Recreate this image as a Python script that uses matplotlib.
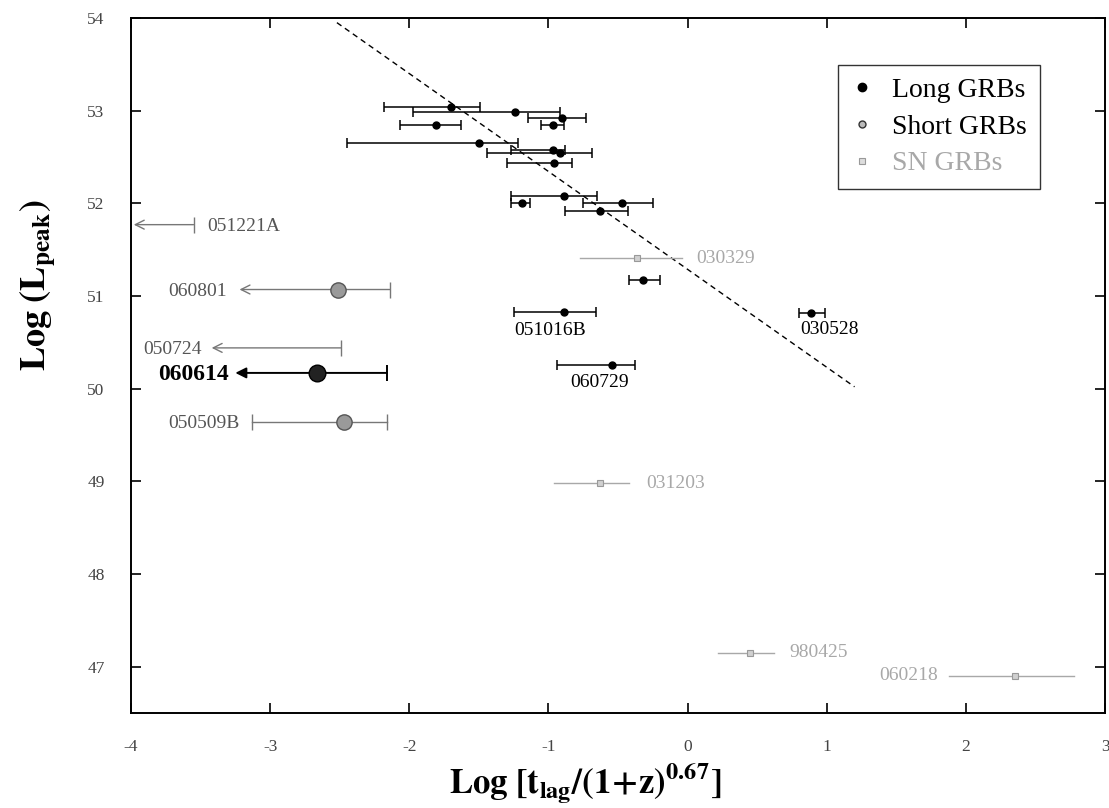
import numpy as np
import matplotlib
matplotlib.use("Agg")
import matplotlib.pyplot as plt

plt.rcParams['font.family'] = ['Liberation Serif', 'DejaVu Serif']
plt.rcParams['mathtext.fontset'] = 'stix'
plt.rcParams['axes.unicode_minus'] = False

# long GRBs: lag, luminosity, error bar ends
long_x = [-1.70, -1.24, -0.90, -0.97, -1.81, -1.50, -0.97, -0.92, -0.96,
          -0.89, -1.19, -0.47, -0.63, -0.32, -0.89, 0.89, -0.54]
long_y = [53.04, 52.99, 52.92, 52.85, 52.85, 52.65, 52.58, 52.54, 52.44,
          52.08, 52.00, 52.00, 51.92, 51.17, 50.83, 50.82, 50.26]
long_lo = [-2.18, -1.97, -1.15, -1.05, -2.07, -2.45, -1.27, -1.44, -1.30,
           -1.27, -1.27, -0.75, -0.88, -0.42, -1.25, 0.80, -0.94]
long_hi = [-1.49, -0.92, -0.73, -0.89, -1.63, -1.22, -0.88, -0.69, -0.83,
           -0.65, -1.13, -0.25, -0.43, -0.20, -0.66, 0.99, -0.38]
long_names = ['051016B', '030528', '060729']
long_name_x = [-0.99, 1.02, -0.63]
long_name_y = [50.63, 50.64, 50.07]

# short GRBs (upper limits drawn as left arrows)
short_names = ['051221A', '060801', '050724', '060614', '050509B']
short_y = [51.77, 51.07, 50.44, 50.17, 49.64]
short_pt = [None, -2.51, None, -2.66, -2.47]
short_hi = [-3.55, -2.14, -2.49, -2.16, -2.16]
short_lo = [-3.98, -3.22, -3.42, -3.25, -3.13]
short_arrow = [True, True, True, True, False]
short_lab_x = [-3.45, -3.31, -3.49, -3.30, -3.22]
short_lab_ha = ['left', 'right', 'right', 'right', 'right']

# SN GRBs
sn_names = ['030329', '031203', '980425', '060218']
sn_x = [-0.36, -0.63, 0.45, 2.35]
sn_y = [51.41, 48.98, 47.15, 46.90]
sn_lo = [-0.77, -0.96, 0.22, 1.88]
sn_hi = [-0.04, -0.42, 0.62, 2.78]
sn_lab_x = [0.06, -0.30, 0.73, 1.80]
sn_lab_ha = ['left', 'left', 'left', 'right']

# fitted relation
fit_x = [-2.52, 1.20]
fit_y = [53.95, 50.02]

fig = plt.figure(figsize=(11.09, 8.08), dpi=100)
ax = fig.add_axes([0.1181, 0.1176, 0.8783, 0.8601])

ax.plot(fit_x, fit_y, color='k', lw=1.0, ls=(0, (4, 3)))

# long GRBs
long_x = np.array(long_x)
ax.errorbar(long_x, long_y,
            xerr=[long_x - np.array(long_lo), np.array(long_hi) - long_x],
            fmt='o', color='k', ms=5, lw=1.1, capsize=3.5, capthick=1.1)
for n, x, y in zip(long_names, long_name_x, long_name_y):
    ax.text(x, y, n, ha='center', va='center', fontsize=14, color='k')

# short GRBs
grey = '#777777'
for i, n in enumerate(short_names):
    y = short_y[i]
    bold = n == '060614'
    c = 'k' if bold else grey
    lw = 1.4 if bold else 1.0
    if short_arrow[i]:
        style = '-|>' if bold else '->'
        ax.annotate('', xy=(short_lo[i], y), xytext=(short_hi[i], y),
                    arrowprops=dict(arrowstyle=style, color=c, lw=lw,
                                    mutation_scale=16, shrinkA=0, shrinkB=0))
        ax.plot([short_hi[i]], [y], marker='|', ms=12, mew=lw, color=c)
    else:
        ax.plot([short_lo[i], short_hi[i]], [y, y], color=c, lw=lw)
        ax.plot([short_lo[i], short_hi[i]], [y, y], ls='none', marker='|',
                ms=12, mew=lw, color=c)
    if short_pt[i] is not None:
        if bold:
            ax.plot([short_pt[i]], [y], 'o', ms=12, color='#222222', mec='k', zorder=5)
        else:
            ax.plot([short_pt[i]], [y], 'o', ms=11, color='#9a9a9a', mec='#555555',
                    mew=1.0, zorder=5)
    ax.text(short_lab_x[i], y - 0.02, n, ha=short_lab_ha[i], va='center',
            fontsize=17 if bold else 14, color='k' if bold else '#555555',
            fontweight='bold' if bold else 'normal')

# SN GRBs
light = '#a8a8a8'
for i, n in enumerate(sn_names):
    ax.plot([sn_lo[i], sn_hi[i]], [sn_y[i], sn_y[i]], color=light, lw=1.0)
    ax.plot([sn_x[i]], [sn_y[i]], 's', ms=5, color='#d0d0d0', mec='#999999', mew=0.8)
    ax.text(sn_lab_x[i], sn_y[i], n, ha=sn_lab_ha[i], va='center',
            fontsize=14, color=light)

# legend handles
h1, = ax.plot([], [], 'o', color='k', ms=6, label='Long GRBs')
h2, = ax.plot([], [], 'o', color='#bbbbbb', mec='#333333', mew=1.0, ms=5, label='Short GRBs')
h3, = ax.plot([], [], 's', color='#dddddd', mec='#999999', mew=0.8, ms=4.5, label='SN GRBs')
leg = ax.legend(handles=[h1, h2, h3], loc='upper left', bbox_to_anchor=(0.726, 0.932),
                borderaxespad=0, fontsize=20, frameon=True, fancybox=False,
                edgecolor='k', handlelength=0.8, handletextpad=0.7,
                borderpad=0.45, labelspacing=0.4)
leg.get_frame().set_linewidth(1.0)
leg.get_texts()[2].set_color(light)

ax.set_xlim(-4, 3)
ax.set_ylim(46.5, 54)
ax.set_xticks(range(-4, 4))
ax.set_yticks(range(47, 55))
ax.tick_params(direction='in', length=7, width=1.2, top=True, right=True,
               labelsize=12.5, labelcolor='#444444', pad=19)
for s in ax.spines.values():
    s.set_linewidth(1.4)

fig.text(0.035, 1 - 285 / 808, r'$\mathbf{Log\ (L_{peak})}$', rotation=90,
         ha='center', va='center', fontsize=26)
fig.text(585 / 1109, 1 - 783 / 808, r'$\mathbf{Log\ [t_{lag}/(1\!+\!z)^{0.67}]}$',
         ha='center', va='center', fontsize=25)

fig.savefig('out.png', dpi=100)
